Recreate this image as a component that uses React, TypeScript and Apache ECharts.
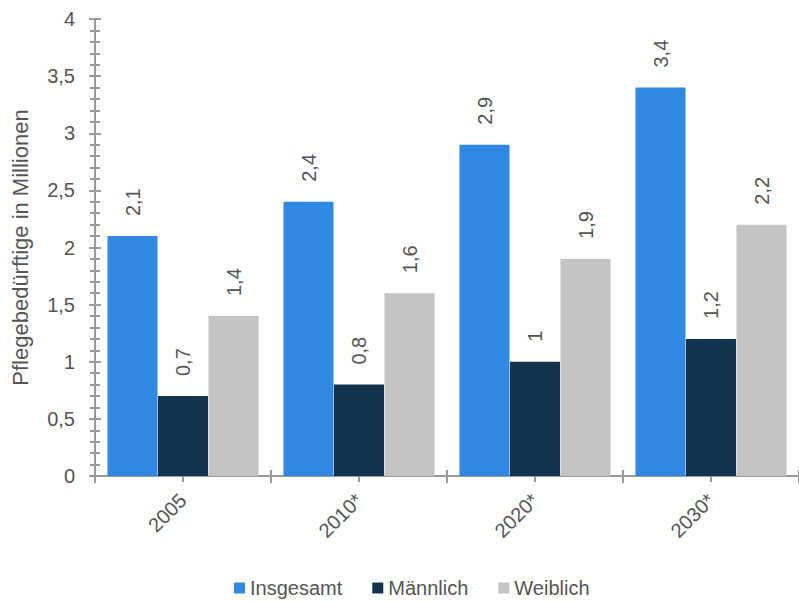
import React, { useEffect, useRef } from "react";
import * as echarts from "echarts";

const categories = ["2005", "2010*", "2020*", "2030*"];
const insgesamt = [2.1, 2.4, 2.9, 3.4];
const maennlich = [0.7, 0.8, 1.0, 1.2];
const weiblich = [1.4, 1.6, 1.9, 2.2];
const seriesNames = ["Insgesamt", "Männlich", "Weiblich"];
const colors = ["#2F89E2", "#12344F", "#C4C4C4"];

const fmt = (v: number) => String(v).replace(".", ",");

export default function App() {
  const ref = useRef<HTMLDivElement>(null);
  useEffect(() => {
    if (!ref.current) return;
    const chart = echarts.init(ref.current, null, { renderer: "svg" });
    const axisColor = "#9A9A9A";
    const textColor = "#555";
    const font = "Arial, 'Liberation Sans', sans-serif";
    const labelCfg = {
      show: true,
      position: "top" as const,
      rotate: 90,
      align: "left" as const,
      verticalAlign: "middle" as const,
      distance: 20,
      color: textColor,
      fontSize: 20,
      fontFamily: font,
      formatter: (p: any) => fmt(p.value),
    };
    const tickStyle = { color: axisColor, width: 2 };
    const baseX = {
      type: "category" as const,
      data: categories,
      position: "bottom" as const,
    };
    chart.setOption({
      animation: false,
      color: colors,
      textStyle: { fontFamily: font },
      grid: { left: 95, right: -8, top: 19, bottom: 126, containLabel: false },
      legend: {
        bottom: -1,
        left: 229,
        icon: "rect",
        itemWidth: 11,
        itemHeight: 11,
        itemGap: 30,
        textStyle: { fontSize: 20, color: textColor, fontFamily: font },
        data: seriesNames,
      },
      xAxis: [
        {
          ...baseX,
          axisLine: { show: true, lineStyle: { color: axisColor, width: 2 } },
          axisTick: { show: true, inside: false, length: 7, lineStyle: tickStyle },
          axisLabel: { rotate: 45, margin: 21, fontSize: 20, color: textColor, fontFamily: font },
        },
        {
          ...baseX,
          axisLine: { show: false },
          axisTick: { show: true, inside: true, length: 6, lineStyle: tickStyle },
          axisLabel: { show: false },
        },
        {
          ...baseX,
          axisLine: { show: false },
          axisTick: { show: true, alignWithLabel: true, inside: false, length: 6, lineStyle: tickStyle },
          axisLabel: { show: false },
        },
        {
          ...baseX,
          axisLine: { show: false },
          axisTick: { show: true, alignWithLabel: true, inside: true, length: 3, lineStyle: tickStyle },
          axisLabel: { show: false },
        },
      ],
      yAxis: [
        {
          type: "value",
          min: 0,
          max: 4,
          interval: 0.5,
          position: "left",
          name: "Pflegebedürftige in Millionen",
          nameLocation: "middle",
          nameRotate: 90,
          nameGap: 64,
          nameTextStyle: { fontSize: 22, color: textColor, fontFamily: font },
          axisLine: { show: true, lineStyle: { color: axisColor, width: 2 } },
          axisTick: { show: true, inside: false, length: 6, lineStyle: tickStyle },
          minorTick: { show: true, splitNumber: 5, length: 5, lineStyle: tickStyle },
          splitLine: { show: false },
          axisLabel: { margin: 20, fontSize: 20, color: textColor, fontFamily: font, formatter: (v: number) => fmt(v) },
        },
        {
          type: "value",
          min: 0,
          max: 4,
          interval: 0.5,
          position: "left",
          axisLine: { show: false },
          axisTick: { show: true, inside: true, length: 6, lineStyle: tickStyle },
          minorTick: { show: true, splitNumber: 5, length: 5, lineStyle: tickStyle },
          splitLine: { show: false },
          axisLabel: { show: false },
        },
      ],
      series: [
        { name: seriesNames[0], type: "bar", data: insgesamt, barWidth: 50, barGap: "1%", label: labelCfg },
        { name: seriesNames[1], type: "bar", data: maennlich, barWidth: 50, barGap: "1%", label: labelCfg },
        { name: seriesNames[2], type: "bar", data: weiblich, barWidth: 50, barGap: "1%", label: labelCfg },
      ],
    });
    return () => chart.dispose();
  }, []);
  return (
    <div
      ref={ref}
      style={{ position: "absolute", left: 0, top: 0, width: 799, height: 602 }}
    />
  );
}
